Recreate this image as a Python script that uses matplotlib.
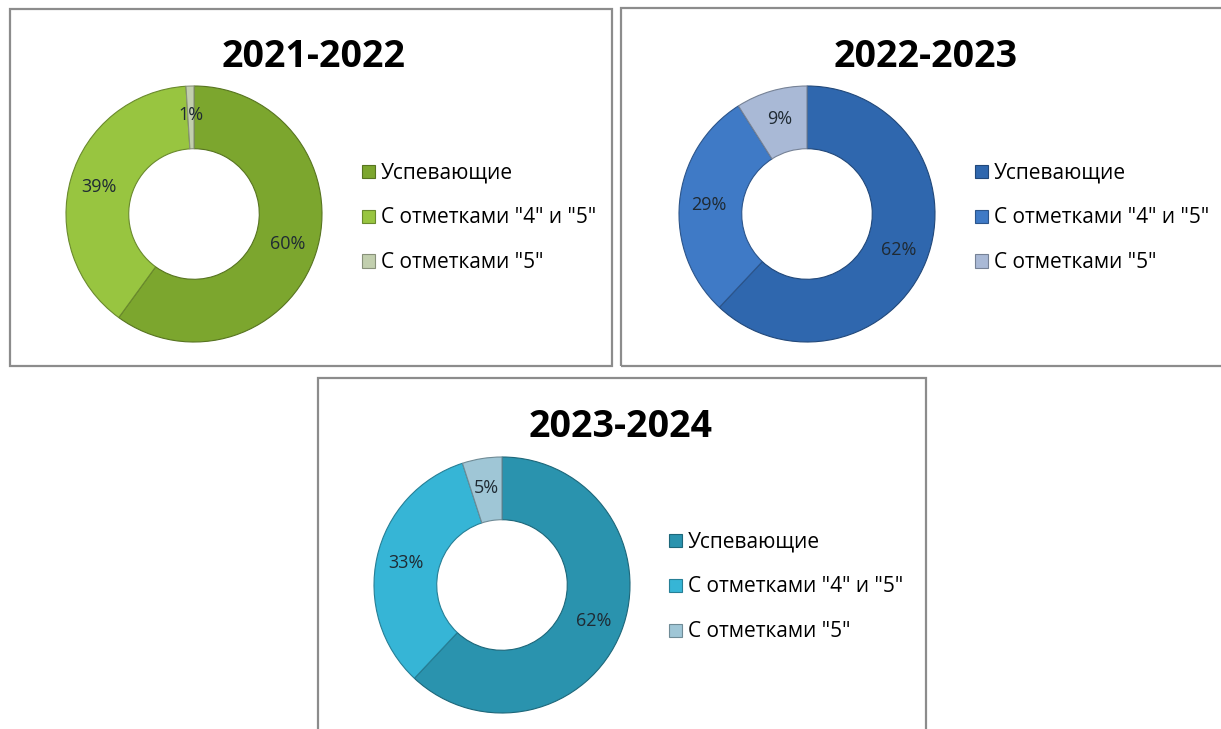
import numpy as np
import matplotlib.pyplot as plt
from matplotlib.patches import Rectangle
from matplotlib.colors import to_rgb

plt.rcParams['font.family'] = ['Open Sans', 'DejaVu Sans']

years = ['2021-2022', '2022-2023', '2023-2024']
labels = ['Успевающие', 'С отметками "4" и "5"', 'С отметками "5"']
vals_2122 = [60, 39, 1]
vals_2223 = [62, 29, 9]
vals_2324 = [62, 33, 5]

green = ['#7ca62e', '#98c540', '#c2cfae']
blue = ['#2f67ae', '#3f7ac6', '#a9b9d6']
teal = ['#2a93ae', '#36b5d6', '#9fc6d6']

W, H = 1221, 729
fig = plt.figure(figsize=(W / 100, H / 100), dpi=100)
fig.patch.set_facecolor('white')

# panel boxes (pixels: left, top, right, bottom)
panels = [(10, 9, 612, 366), (621, 8, 1225, 366), (318, 378, 926, 735)]
centers = [(194, 214), (807, 214), (502, 585)]
legend_pos = [(362, 218), (975, 218), (669, 587)]
title_pos = [(314, 57), (926, 57), (621, 427)]
R = 128


def darker(c, f=0.7):
    return tuple(v * f for v in to_rgb(c))


for (l, t, r, b) in panels:
    fig.add_artist(Rectangle((l / W, 1 - b / H), (r - l) / W, (b - t) / H,
                             transform=fig.transFigure, fill=False,
                             edgecolor='#8c8c8c', linewidth=1.6))

data = [vals_2122, vals_2223, vals_2324]
cols = [green, blue, teal]
for i in range(3):
    cx, cy = centers[i]
    ax = fig.add_axes([(cx - R) / W, 1 - (cy + R) / H, 2 * R / W, 2 * R / H])
    wedges, texts, autotexts = ax.pie(
        data[i], colors=cols[i], startangle=90, counterclock=False,
        radius=1.0, autopct=lambda p: '%d%%' % round(p), pctdistance=0.77,
        wedgeprops=dict(width=0.49, linewidth=0.8),
        textprops=dict(fontsize=13, color='#1f2a33'))
    for w, c in zip(wedges, cols[i]):
        w.set_edgecolor(darker(c))
    ax.set_xlim(-1.0, 1.0)
    ax.set_ylim(-1.0, 1.0)
    ax.set_aspect('equal')
    tx, ty = title_pos[i]
    fig.text(tx / W, 1 - ty / H, years[i], ha='center', va='center',
             fontsize=27, fontweight='bold', color='black')
    lx, ly = legend_pos[i]
    ax.legend(wedges, labels, loc='center left',
              bbox_to_anchor=(lx / W, 1 - ly / H), bbox_transform=fig.transFigure,
              frameon=False, fontsize=15, labelspacing=1.15,
              handlelength=0.6, handleheight=0.6, handletextpad=0.3,
              borderaxespad=0, borderpad=0)

fig.savefig('out.png', dpi=100)
